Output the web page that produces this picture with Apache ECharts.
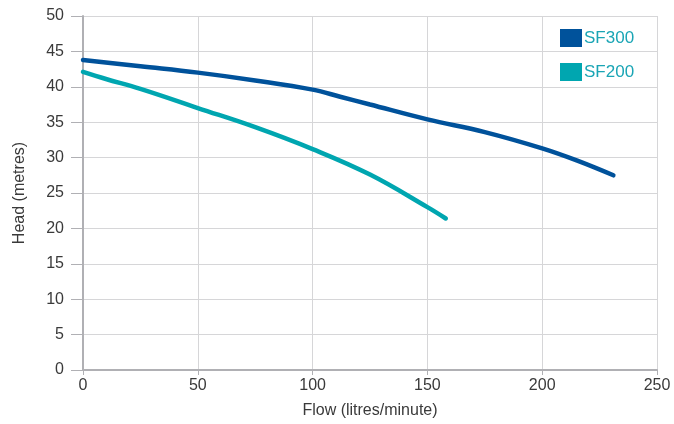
<!DOCTYPE html>
<html><head><meta charset="utf-8">
<script src="https://cdn.jsdelivr.net/npm/echarts@6/dist/echarts.min.js"></script>
<style>html,body{margin:0;padding:0;background:#fff}#c{width:674px;height:424px}</style>
</head><body><div id="c"></div>
<script>
const seriesNames = ['SF300', 'SF200'];
const sf300Flow = [0, 25, 50, 75, 100, 112, 125, 150, 175, 200, 215, 231];
const sf300Head = [43.8, 42.9, 42.0, 40.9, 39.6, 38.6, 37.5, 35.4, 33.6, 31.3, 29.6, 27.5];
const sf200Flow = [0, 10, 25, 50, 75, 100, 125, 150, 158];
const sf200Head = [42.1, 41.1, 39.7, 37.0, 34.3, 31.2, 27.6, 23.0, 21.4];
const xTitle = 'Flow (litres/minute)';
const yTitle = 'Head (metres)';

const pair = (xs, ys) => xs.map((x, i) => [x, ys[i]]);
const chart = echarts.init(document.getElementById('c'), null, {renderer: 'canvas'});
const FONT = 'Liberation Sans, Arial, sans-serif';
const axisLabel = {color: '#3a3a3a', fontSize: 16, fontFamily: FONT};
chart.setOption({
  animation: false,
  grid: {left: 83, right: 17, top: 16, bottom: 54, containLabel: false},
  legend: {
    orient: 'vertical', left: 555, top: 24, itemWidth: 22, itemHeight: 18, itemGap: 16,
    icon: 'rect',
    textStyle: {color: '#1aa5b5', fontSize: 17, fontFamily: FONT, padding: [0, 0, 0, -3]},
    data: seriesNames
  },
  xAxis: {
    type: 'value', min: 0, max: 250, interval: 50,
    name: xTitle, nameLocation: 'middle', nameGap: 33,
    nameTextStyle: {color: '#3a3a3a', fontSize: 16, fontFamily: FONT},
    axisLine: {show: true, lineStyle: {color: '#b0b0b4', width: 2}},
    axisTick: {show: true, length: 5, lineStyle: {color: '#b0b0b4', width: 1}},
    axisLabel: Object.assign({margin: 8}, axisLabel),
    splitLine: {show: true, lineStyle: {color: '#d6d6d8', width: 1}}
  },
  yAxis: {
    type: 'value', min: 0, max: 50, interval: 5,
    name: yTitle, nameLocation: 'middle', nameGap: 55, nameRotate: 90,
    nameTextStyle: {color: '#3a3a3a', fontSize: 16, fontFamily: FONT},
    axisLine: {show: true, lineStyle: {color: '#b0b0b4', width: 2}},
    axisTick: {show: true, length: 12, lineStyle: {color: '#b0b0b4', width: 1}},
    axisLabel: Object.assign({margin: 19}, axisLabel),
    splitLine: {show: true, lineStyle: {color: '#d6d6d8', width: 1}}
  },
  series: [
    {name: seriesNames[0], type: 'line', smooth: 0.4, showSymbol: false, symbol: 'none',
     data: pair(sf300Flow, sf300Head), color: '#00529b',
     lineStyle: {width: 4.5, color: '#00529b', cap: 'round'}},
    {name: seriesNames[1], type: 'line', smooth: 0.4, showSymbol: false, symbol: 'none',
     data: pair(sf200Flow, sf200Head), color: '#00a6b0',
     lineStyle: {width: 4.5, color: '#00a6b0', cap: 'round'}}
  ]
});
</script></body></html>
